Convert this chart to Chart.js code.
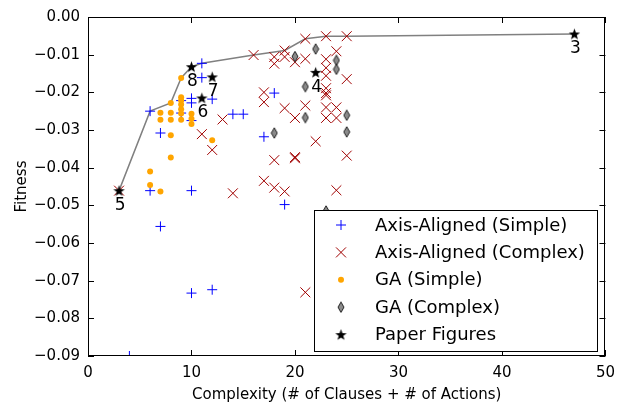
<!DOCTYPE html>
<html>
<head>
<meta charset="utf-8">
<script src="https://cdn.jsdelivr.net/npm/chart.js@4/dist/chart.umd.min.js"></script>
<style>
html,body{margin:0;padding:0;background:#fff;}
canvas{display:block;}
</style>
</head>
<body>
<canvas id="c" width="623" height="406"></canvas>
<script>
// ---- data ----
const xTicks = [0, 10, 20, 30, 40, 50];
const yTicks = [0, -0.01, -0.02, -0.03, -0.04, -0.05, -0.06, -0.07, -0.08, -0.09];

const aaSimpleX = [11, 11, 12, 10, 9, 10, 6, 9, 10, 7, 14, 15, 17, 18, 6, 10, 7, 19, 10, 12, 4];
const aaSimpleY = [-0.0123, -0.0161, -0.0218, -0.0216, -0.0222, -0.0228, -0.0250, -0.0255, -0.0275, -0.0308, -0.0258, -0.0258, -0.0318, -0.0202, -0.0461, -0.0461, -0.0556, -0.0498, -0.0733, -0.0724, -0.0900];

const aaComplexX = [3, 11, 12, 13, 14, 16, 17, 17, 17, 18, 18, 18, 18, 19, 19, 19, 19, 20, 20, 20, 20, 21, 21, 21, 21, 22, 23, 23, 23, 23, 23, 23, 23, 23, 23, 24, 24, 24, 24, 25, 25, 25];
const aaComplexY = [-0.0461, -0.0311, -0.0353, -0.0272, -0.0468, -0.0101, -0.0200, -0.0226, -0.0435, -0.0106, -0.0124, -0.0380, -0.0453, -0.0089, -0.0106, -0.0242, -0.0463, -0.0120, -0.0268, -0.0375, -0.0372, -0.0058, -0.0111, -0.0235, -0.0731, -0.0330, -0.0051, -0.0112, -0.0135, -0.0156, -0.0189, -0.0202, -0.0208, -0.0240, -0.0268, -0.0091, -0.0240, -0.0268, -0.0460, -0.0051, -0.0165, -0.0368];

const gaSimpleX = [9, 8, 9, 9, 9, 9, 7, 8, 9, 10, 7, 8, 9, 10, 10, 8, 12, 8, 6, 6, 7];
const gaSimpleY = [-0.0162, -0.0228, -0.0213, -0.0222, -0.0232, -0.0245, -0.0254, -0.0254, -0.0256, -0.0257, -0.0273, -0.0273, -0.0273, -0.0270, -0.0284, -0.0314, -0.0327, -0.0373, -0.0410, -0.0446, -0.0463];

const gaComplexX = [20, 22, 24, 24, 21, 21, 25, 18, 25, 23];
const gaComplexY = [-0.0105, -0.0085, -0.0115, -0.0139, -0.0185, -0.0267, -0.0261, -0.0308, -0.0305, -0.0515];

const paperX = [47, 22, 3, 11, 12, 10];
const paperY = [-0.0045, -0.0147, -0.0461, -0.0215, -0.0159, -0.0132];
const paperLabels = ["3", "4", "5", "6", "7", "8"];

const frontX = [3, 6, 8, 9, 10, 11, 16, 19, 21, 23, 25, 47];
const frontY = [-0.0461, -0.0250, -0.0228, -0.0162, -0.0132, -0.0123, -0.0101, -0.0089, -0.0058, -0.0051, -0.0051, -0.0045];

const seriesNames = ["Axis-Aligned (Simple)", "Axis-Aligned (Complex)", "GA (Simple)", "GA (Complex)", "Paper Figures"];

// ---- helpers ----
const pts = (xs, ys) => xs.map((x, i) => ({x: x, y: ys[i]}));
const FONT = "'DejaVu Sans', 'Bitstream Vera Sans', sans-serif";

function makeStar(size) {
  const c = document.createElement('canvas');
  c.width = size; c.height = size;
  const g = c.getContext('2d');
  const cx = size / 2, cy = size / 2 + 0.5, R = size / 2 - 0.5, r = R * 0.4;
  g.beginPath();
  for (let i = 0; i < 10; i++) {
    const a = -Math.PI / 2 + i * Math.PI / 5;
    const rr = i % 2 === 0 ? R : r;
    g.lineTo(cx + rr * Math.cos(a), cy + rr * Math.sin(a));
  }
  g.closePath();
  g.fillStyle = '#000';
  g.fill();
  return c;
}
function makeDiamond(w, h) {
  const c = document.createElement('canvas');
  c.width = w; c.height = h;
  const g = c.getContext('2d');
  g.beginPath();
  g.moveTo(w / 2, 0.8);
  g.lineTo(w - 1, h / 2);
  g.lineTo(w / 2, h - 0.8);
  g.lineTo(1, h / 2);
  g.closePath();
  g.fillStyle = '#8a8a8a';
  g.fill();
  g.lineWidth = 1;
  g.strokeStyle = '#222';
  g.stroke();
  return c;
}
const starImg = makeStar(13);
const diamondImg = makeDiamond(8, 12);

const BLUE = '#0000ff', RED = '#a00000', ORANGE = '#ffa500', LINEGRAY = '#808080';

// ---- plugin: frame, inner ticks, star labels, legend ----
const decor = {
  id: 'decor',
  afterDatasetsDraw(chart) {
    const {ctx, chartArea: a, scales: {x, y}} = chart;
    ctx.save();
    // labels next to paper-figure stars
    const meta = chart.getDatasetMeta(0);
    ctx.fillStyle = '#000';
    ctx.font = '17px ' + FONT;
    ctx.textAlign = 'center';
    ctx.textBaseline = 'middle';
    meta.data.forEach((p, i) => {
      ctx.fillText(paperLabels[i], p.x + 1, p.y + 15);
    });
    // frame
    ctx.strokeStyle = '#000';
    ctx.lineWidth = 1;
    ctx.strokeRect(Math.round(a.left) + 0.5, Math.round(a.top) + 0.5, Math.round(a.right - a.left) - 1, Math.round(a.bottom - a.top) - 1);
    // inner ticks on all sides
    const TL = 6;
    ctx.beginPath();
    xTicks.forEach(v => {
      const px = Math.round(x.getPixelForValue(v)) + 0.5;
      ctx.moveTo(px, a.bottom); ctx.lineTo(px, a.bottom - TL);
      ctx.moveTo(px, a.top); ctx.lineTo(px, a.top + TL);
    });
    yTicks.forEach(v => {
      const py = Math.round(y.getPixelForValue(v)) + 0.5;
      ctx.moveTo(a.left, py); ctx.lineTo(a.left + TL, py);
      ctx.moveTo(a.right, py); ctx.lineTo(a.right - TL, py);
    });
    ctx.stroke();
    // legend box
    const L = 314.5, T = 210.5, W = 283, H = 141;
    ctx.fillStyle = '#fff';
    ctx.fillRect(L, T, W, H);
    ctx.strokeStyle = '#000';
    ctx.lineWidth = 1;
    ctx.strokeRect(L, T, W, H);
    const mx = 341, tx = 375, rows = [225, 252.4, 279.8, 307.2, 334.6];
    // plus
    ctx.strokeStyle = BLUE; ctx.lineWidth = 1;
    ctx.beginPath();
    ctx.moveTo(mx - 5, rows[0]); ctx.lineTo(mx + 5, rows[0]);
    ctx.moveTo(mx, rows[0] - 5); ctx.lineTo(mx, rows[0] + 5);
    ctx.stroke();
    // x
    ctx.strokeStyle = RED;
    ctx.beginPath();
    ctx.moveTo(mx - 5, rows[1] - 5); ctx.lineTo(mx + 5, rows[1] + 5);
    ctx.moveTo(mx - 5, rows[1] + 5); ctx.lineTo(mx + 5, rows[1] - 5);
    ctx.stroke();
    // dot
    ctx.fillStyle = ORANGE;
    ctx.beginPath(); ctx.arc(mx, rows[2], 3, 0, Math.PI * 2); ctx.fill();
    // diamond
    ctx.drawImage(diamondImg, mx - diamondImg.width / 2, rows[3] - diamondImg.height / 2);
    // star
    ctx.drawImage(starImg, mx - starImg.width / 2, rows[4] - starImg.height / 2);
    // text
    ctx.fillStyle = '#000';
    ctx.font = '18px ' + FONT;
    ctx.textAlign = 'left';
    ctx.textBaseline = 'middle';
    seriesNames.forEach((s, i) => ctx.fillText(s, tx, rows[i] + 1));
    ctx.restore();
  }
};

Chart.defaults.color = '#000';
Chart.defaults.font.family = FONT;
Chart.defaults.font.size = 15;

const fmtY = v => {
  if (Math.abs(v) < 1e-9) return '0.00';
  return (v < 0 ? '\u2212' : '') + Math.abs(v).toFixed(2);
};

new Chart(document.getElementById('c'), {
  type: 'scatter',
  data: {
    datasets: [
      {label: seriesNames[4], data: pts(paperX, paperY), pointStyle: starImg, pointRadius: 6, pointHoverRadius: 6},
      {label: seriesNames[3], data: pts(gaComplexX, gaComplexY), pointStyle: diamondImg, pointRadius: 6, pointHoverRadius: 6},
      {label: seriesNames[2], data: pts(gaSimpleX, gaSimpleY), pointStyle: 'circle', pointRadius: 3, backgroundColor: ORANGE, borderColor: ORANGE, borderWidth: 0},
      {label: seriesNames[1], data: pts(aaComplexX, aaComplexY), pointStyle: 'crossRot', pointRadius: 7, borderColor: RED, backgroundColor: RED, borderWidth: 1},
      {label: seriesNames[0], data: pts(aaSimpleX, aaSimpleY), pointStyle: 'cross', pointRadius: 5, borderColor: BLUE, backgroundColor: BLUE, borderWidth: 1},
      {label: 'front', data: pts(frontX, frontY), showLine: true, borderColor: LINEGRAY, borderWidth: 1.5, pointRadius: 0, fill: false, tension: 0}
    ]
  },
  options: {
    responsive: false,
    animation: false,
    events: [],
    layout: {padding: {left: 0, top: 14, right: 16, bottom: 0}},
    plugins: {legend: {display: false}, tooltip: {enabled: false}},
    scales: {
      x: {
        type: 'linear', min: 0, max: 50,
        afterBuildTicks: s => { s.ticks = xTicks.map(v => ({value: v})); },
        afterFit: s => { s.height = 50; },
        grid: {display: false, drawTicks: false},
        border: {display: false},
        ticks: {padding: 8, font: {size: 15}, callback: v => String(v)},
        title: {display: true, text: 'Complexity (# of Clauses + # of Actions)', font: {size: 15}, padding: {top: 0, bottom: 2}}
      },
      y: {
        type: 'linear', min: -0.09, max: 0,
        afterBuildTicks: s => { s.ticks = yTicks.map(v => ({value: v})); },
        afterFit: s => { s.width = 88; },
        grid: {display: false, drawTicks: false},
        border: {display: false},
        ticks: {padding: 8, font: {size: 15}, callback: v => fmtY(v)},
        title: {display: true, text: 'Fitness', font: {size: 15}, padding: {top: 13, bottom: 0}}
      }
    }
  },
  plugins: [decor]
});
</script>
</body>
</html>
